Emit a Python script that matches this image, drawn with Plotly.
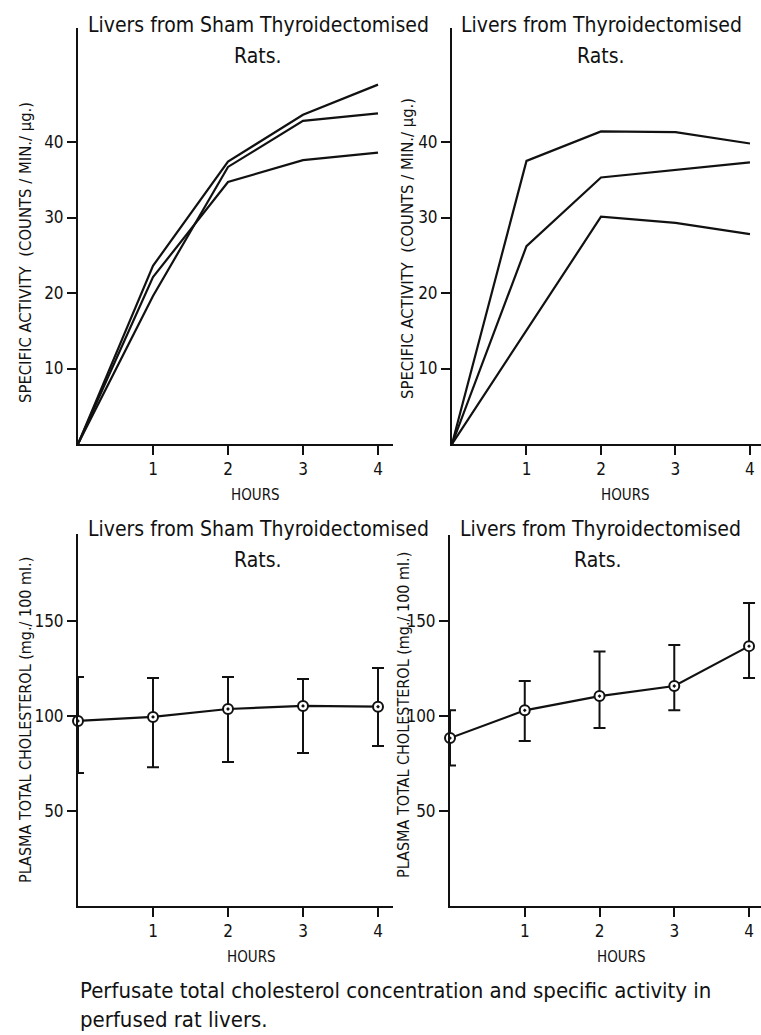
import plotly.graph_objects as go

# ---------------- data ----------------
hours = [0, 1, 2, 3, 4]
x_ticks = [1, 2, 3, 4]

# Specific activity (counts/min/µg) - livers from sham thyroidectomised rats
sham_sa_1 = [0, 23.6, 37.4, 43.6, 47.6]
sham_sa_2 = [0, 22.1, 34.7, 37.6, 38.6]
sham_sa_3 = [0, 19.6, 36.7, 42.8, 43.8]

# Specific activity - livers from thyroidectomised rats
thyx_sa_1 = [0, 37.5, 41.4, 41.3, 39.8]
thyx_sa_2 = [0, 26.2, 35.3, 36.3, 37.3]
thyx_sa_3 = [0, 15.0, 30.1, 29.3, 27.8]

sa_ticks = [10, 20, 30, 40]

# Plasma total cholesterol (mg/100 ml) with error bar limits
sham_chol = [97.4, 99.5, 103.7, 105.3, 104.9]
sham_chol_hi = [120.5, 120.0, 120.5, 119.5, 125.3]
sham_chol_lo = [70.0, 73.0, 75.8, 80.5, 84.2]

thyx_chol = [88.4, 103.0, 110.5, 115.8, 136.8]
thyx_chol_hi = [103.0, 118.4, 134.0, 137.4, 159.5]
thyx_chol_lo = [74.0, 86.8, 93.7, 103.0, 120.0]

chol_ticks = [50, 100, 150]

title_sham = "Livers from Sham Thyroidectomised"
title_thyx = "Livers from Thyroidectomised"
title_rats = "Rats."
sa_label = "SPECIFIC ACTIVITY  (COUNTS / MIN./ µg.)"
chol_label = "PLASMA TOTAL CHOLESTEROL (mg./ 100 ml.)"
x_label = "HOURS"
caption_1 = "Perfusate total cholesterol concentration and specific activity in"
caption_2 = "perfused rat livers."

# ---------------- layout helpers ----------------
W, H = 761, 1035
FONT = "Liberation Sans Narrow, DejaVu Sans Condensed, Liberation Sans, Arial, sans-serif"
INK = "#111111"


def px_x(a, b):
    return [a / W, b / W]


def px_y(top, bottom):
    return [1 - bottom / H, 1 - top / H]


fig = go.Figure()

line_style = dict(color=INK, width=2.2)

for series in (sham_sa_1, sham_sa_2, sham_sa_3):
    fig.add_trace(go.Scatter(x=hours, y=series, mode="lines", line=line_style,
                             xaxis="x", yaxis="y", cliponaxis=False, showlegend=False))
for series in (thyx_sa_1, thyx_sa_2, thyx_sa_3):
    fig.add_trace(go.Scatter(x=hours, y=series, mode="lines", line=line_style,
                             xaxis="x2", yaxis="y2", cliponaxis=False, showlegend=False))


def chol_trace(mean, hi, lo, xa, ya):
    return go.Scatter(
        x=hours, y=mean, mode="lines+markers",
        line=line_style,
        marker=dict(symbol="circle-dot", size=10, color="white",
                    line=dict(color=INK, width=2)),
        error_y=dict(type="data", symmetric=False,
                     array=[h - m for h, m in zip(hi, mean)],
                     arrayminus=[m - l for m, l in zip(mean, lo)],
                     color=INK, thickness=2, width=6),
        xaxis=xa, yaxis=ya, cliponaxis=False, showlegend=False)


fig.add_trace(chol_trace(sham_chol, sham_chol_hi, sham_chol_lo, "x3", "y3"))
fig.add_trace(chol_trace(thyx_chol, thyx_chol_hi, thyx_chol_lo, "x4", "y4"))

axis_common = dict(showline=True, linecolor=INK, linewidth=2, showgrid=False,
                   zeroline=False, ticks="outside", tickcolor=INK, tickwidth=2,
                   ticklen=9, tickfont=dict(family=FONT, size=17, color=INK))

layout = dict(
    width=W, height=H,
    margin=dict(l=0, r=0, t=0, b=0),
    paper_bgcolor="white", plot_bgcolor="white",
    showlegend=False,
    xaxis=dict(domain=px_x(78, 393), range=[0, 4.2], tickvals=x_ticks, anchor="y", **axis_common),
    yaxis=dict(domain=px_y(28, 444), range=[0, 55.1], tickvals=sa_ticks, anchor="x", **axis_common),
    xaxis2=dict(domain=px_x(452, 761), range=[0, 4.148], tickvals=x_ticks, anchor="y2", **axis_common),
    yaxis2=dict(domain=px_y(28, 444), range=[0, 55.1], tickvals=sa_ticks, anchor="x2", **axis_common),
    xaxis3=dict(domain=px_x(78, 393), range=[0, 4.2], tickvals=x_ticks, anchor="y3", **axis_common),
    yaxis3=dict(domain=px_y(534, 906), range=[0, 195.8], tickvals=chol_ticks, anchor="x3", **axis_common),
    xaxis4=dict(domain=px_x(450, 761), range=[0, 4.16], tickvals=x_ticks, anchor="y4", **axis_common),
    yaxis4=dict(domain=px_y(535, 906), range=[0, 195.3], tickvals=chol_ticks, anchor="x4", **axis_common),
)
fig.update_layout(**layout)


def ann(text, x, y, size, xanchor="center", angle=0):
    fig.add_annotation(text=text, x=x / W, y=1 - y / H, xref="paper", yref="paper",
                       showarrow=False, xanchor=xanchor, yanchor="middle",
                       textangle=angle, font=dict(family=FONT, size=size, color=INK))


# panel titles
ann(title_sham, 258, 25, 21)
ann(title_rats, 258, 56, 21)
ann(title_thyx, 601, 25, 21)
ann(title_rats, 601, 56, 21)
ann(title_sham, 258, 529, 21)
ann(title_rats, 258, 560, 21)
ann(title_thyx, 600, 529, 21)
ann(title_rats, 598, 560, 21)

# y axis titles
ann(sa_label, 25, 253, 16.5, angle=-90)
ann(sa_label, 408, 249, 16.5, angle=-90)
ann(chol_label, 25, 720, 16, angle=-90)
ann(chol_label, 403, 715, 16, angle=-90)

# x axis titles
ann(x_label, 255, 495, 15)
ann(x_label, 625, 495, 15)
ann(x_label, 251, 957, 15)
ann(x_label, 621, 957, 15)

# caption
ann(caption_1, 78, 990, 22, xanchor="left")
ann(caption_2, 78, 1019, 22, xanchor="left")

fig.write_html(
    "out.html",
    config={"displayModeBar": False},
    post_script="document.body.style.margin='0px';document.body.style.overflow='hidden';",
)
